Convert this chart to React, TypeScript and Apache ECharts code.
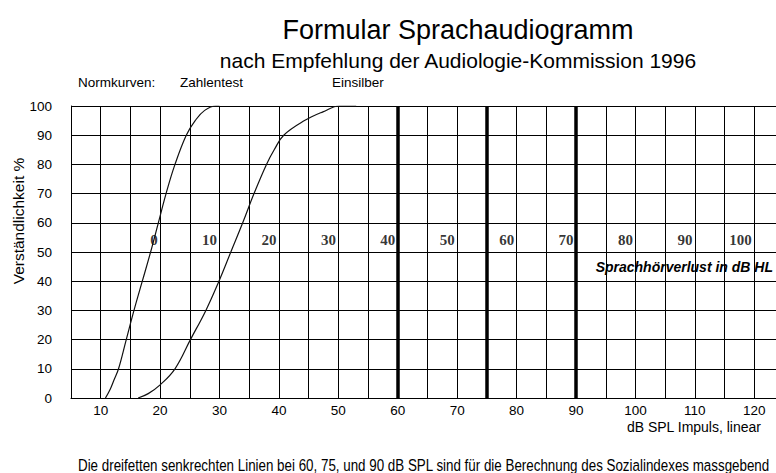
import React, { useEffect, useRef } from 'react';
import * as echarts from 'echarts';

// Norm curves (x: dB SPL, y: Verständlichkeit %)
const zahlentest: [number, number][] = [
  [10.8, 0], [11.6, 3], [12.2, 6], [13.0, 10], [14.3, 20], [15.6, 30], [17.0, 40],
  [18.4, 50], [19.7, 60], [21.0, 70], [22.5, 80], [24.4, 90], [25.9, 95], [27.5, 98.5],
  [29.4, 100], [30.0, 100],
];
const einsilber: [number, number][] = [
  [16.3, 0], [18.0, 1.5], [20.0, 4.5], [22.5, 10], [25.1, 20], [27.7, 30], [29.9, 40],
  [31.9, 50], [33.9, 60], [35.8, 70], [37.9, 80], [39.2, 85], [40.8, 90], [44.3, 95],
  [47.4, 98], [50.2, 100], [53.0, 100],
];
// Sprachhörverlust labels (dB HL) and their SPL offset
const hlValues = [0, 10, 20, 30, 40, 50, 60, 70, 80, 90, 100];
const hlToSplOffset = 20;
const hlLabelLevel = 54;
// Thick vertical lines (dB SPL)
const thickLines = [60, 75, 90];
// Tick labels
const xTickLabels = [10, 20, 30, 40, 50, 60, 70, 80, 90, 100, 110, 120];
const yTickLabels = [0, 10, 20, 30, 40, 50, 60, 70, 80, 90, 100];

const SANS = 'Liberation Sans, Arial, sans-serif';
const SERIF = 'Liberation Serif, Times New Roman, serif';

export default function App() {
  const ref = useRef<HTMLDivElement>(null);
  useEffect(() => {
    document.body.style.margin = '0';
    const chart = echarts.init(ref.current!, null, { renderer: 'svg' });
    const option: any = {
      animation: false,
      backgroundColor: '#fff',
      grid: { left: 71, top: 106, width: 713, height: 292, containLabel: false, outerBoundsMode: 'none' },
      xAxis: {
        type: 'value',
        min: 5,
        max: 125,
        interval: 5,
        axisLine: { show: true, lineStyle: { color: '#000', width: 1 } },
        axisTick: { show: false },
        splitLine: { show: true, lineStyle: { color: '#000', width: 1 } },
        axisLabel: {
          margin: 5,
          fontFamily: SANS,
          fontSize: 13.5,
          color: '#000',
          showMinLabel: true,
          showMaxLabel: true,
          formatter: (v: number) => (xTickLabels.includes(v) ? String(v) : ''),
        },
      },
      yAxis: {
        type: 'value',
        min: 0,
        max: 100,
        interval: 10,
        axisLine: { show: true, lineStyle: { color: '#000', width: 1 } },
        axisTick: { show: false },
        splitLine: { show: true, lineStyle: { color: '#000', width: 1 } },
        axisLabel: {
          margin: 19,
          fontFamily: SANS,
          fontSize: 13.5,
          color: '#000',
          formatter: (v: number) => (yTickLabels.includes(v) ? String(v) : ''),
        },
      },
      series: [
        {
          name: 'Zahlentest',
          type: 'line',
          data: zahlentest,
          showSymbol: false,
          smooth: 0.4,
          lineStyle: { color: '#111', width: 1.2 },
          z: 5,
        },
        {
          name: 'Einsilber',
          type: 'line',
          data: einsilber,
          showSymbol: false,
          smooth: 0.4,
          lineStyle: { color: '#111', width: 1.2 },
          z: 5,
        },
        {
          name: 'HL',
          type: 'scatter',
          data: hlValues.map((h) => [h + hlToSplOffset, hlLabelLevel, h]),
          symbolSize: 1,
          itemStyle: { color: 'rgba(0,0,0,0)' },
          label: {
            show: true,
            position: 'left',
            distance: 2,
            formatter: (p: any) => String(p.data[2]),
            fontFamily: SERIF,
            fontWeight: 'bold',
            fontSize: 15,
            color: '#000',
          },
          markLine: {
            silent: true,
            symbol: ['none', 'none'],
            label: { show: false },
            lineStyle: { color: '#000', width: 3.5, type: 'solid' },
            data: thickLines.map((x) => ({ xAxis: x })),
          },
          z: 6,
        },
      ],
      graphic: [
        {
          type: 'text', x: 458, y: 30,
          style: { text: 'Formular Sprachaudiogramm', fontFamily: SANS, fontSize: 27, fill: '#000', textAlign: 'center', textVerticalAlign: 'middle' },
        },
        {
          type: 'text', x: 458, y: 60,
          style: { text: 'nach Empfehlung der Audiologie-Kommission 1996', fontFamily: SANS, fontSize: 21, fill: '#000', textAlign: 'center', textVerticalAlign: 'middle' },
        },
        {
          type: 'text', x: 78, y: 82,
          style: { text: 'Normkurven:', fontFamily: SANS, fontSize: 13.5, fill: '#000', textAlign: 'left', textVerticalAlign: 'middle' },
        },
        {
          type: 'text', x: 180, y: 82,
          style: { text: 'Zahlentest', fontFamily: SANS, fontSize: 13.5, fill: '#000', textAlign: 'left', textVerticalAlign: 'middle' },
        },
        {
          type: 'text', x: 332, y: 82,
          style: { text: 'Einsilber', fontFamily: SANS, fontSize: 13.5, fill: '#000', textAlign: 'left', textVerticalAlign: 'middle' },
        },
        {
          type: 'text', x: 18, y: 221, rotation: Math.PI / 2,
          style: { text: 'Verständlichkeit %', fontFamily: SANS, fontSize: 15.5, fill: '#000', textAlign: 'center', textVerticalAlign: 'middle' },
        },
        {
          type: 'text', x: 773, y: 267, z: 10,
          style: { text: 'Sprachhörverlust in dB HL', fontFamily: SANS, fontSize: 14, fontWeight: 'bold', fontStyle: 'italic', fill: '#000', textAlign: 'right', textVerticalAlign: 'middle' },
        },
        {
          type: 'text', x: 761, y: 427,
          style: { text: 'dB SPL Impuls, linear', fontFamily: SANS, fontSize: 14, fill: '#000', textAlign: 'right', textVerticalAlign: 'middle' },
        },
        {
          type: 'text', x: 78, y: 465, scaleX: 0.787,
          style: { text: 'Die dreifetten senkrechten Linien bei 60, 75, und 90 dB SPL sind für die Berechnung des Sozialindexes massgebend', fontFamily: SANS, fontSize: 17, fill: '#000', textAlign: 'left', textVerticalAlign: 'middle' },
        },
      ],
    };
    chart.setOption(option);
    return () => chart.dispose();
  }, []);
  return <div ref={ref} style={{ width: 776, height: 473 }} />;
}
